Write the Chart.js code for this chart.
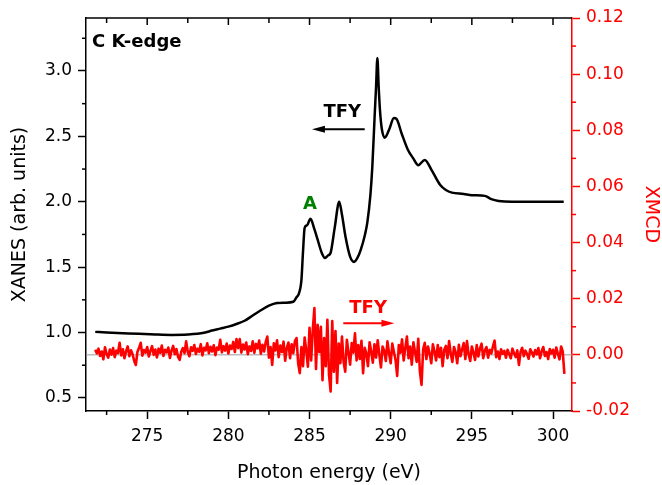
<!DOCTYPE html>
<html>
<head>
<meta charset="utf-8">
<script src="https://cdn.jsdelivr.net/npm/chart.js@4.4.1/dist/chart.umd.min.js"></script>
<style>
  html, body { margin: 0; padding: 0; background: #fff; }
  #wrap { width: 662px; height: 485px; }
</style>
</head>
<body>
<div id="wrap"><canvas id="c"></canvas></div>
<script>
// XANES (TFY), left axis
const xanesEnergy = [271.8, 272.5, 273.5, 274.5, 275.5, 276.5, 277.5, 278.5, 279.0, 279.5,
  280.0, 280.5, 281.0, 281.5, 282.0, 282.5, 283.0, 283.5, 284.0, 284.2, 284.35, 284.5, 284.6,
  284.7, 284.85, 285.06, 285.3, 285.5, 285.75, 285.95, 286.15, 286.3, 286.55, 286.83, 287.0,
  287.22, 287.5, 287.74, 287.95, 288.15, 288.4, 288.56, 288.75, 288.87, 289.01, 289.1, 289.18,
  289.26, 289.34, 289.45, 289.63, 289.9, 290.2, 290.35, 290.68, 291.05, 291.4, 291.7, 292.1,
  292.53, 293.04, 293.4, 293.77, 294.5, 295.0, 295.8, 296.2, 296.65, 297.47, 298.5, 299.5, 300.66]
const xanes = [1.005, 1.0, 0.995, 0.99, 0.985, 0.982, 0.985, 0.998, 1.015, 1.03,
  1.045, 1.065, 1.09, 1.13, 1.17, 1.205, 1.225, 1.228, 1.235, 1.27, 1.30, 1.40, 1.62,
  1.80, 1.82, 1.87, 1.79, 1.71, 1.61, 1.57, 1.59, 1.61, 1.80, 2.00, 1.90,
  1.73, 1.58, 1.54, 1.57, 1.63, 1.74, 1.84, 2.05, 2.27, 2.65, 2.88, 3.10,
  2.88, 2.70, 2.56, 2.49, 2.55, 2.64, 2.635, 2.52, 2.40, 2.33, 2.28, 2.32,
  2.24, 2.13, 2.09, 2.07, 2.06, 2.05, 2.045, 2.02, 2.006, 2.0, 2.0, 2.0, 2.0]

// XMCD (TFY), right axis, 0.1 eV steps
const xmcdEnergy = [271.8, 271.9,
  272.0, 272.1, 272.2, 272.3, 272.4, 272.5, 272.6, 272.7, 272.8, 272.9,
  273.0, 273.1, 273.2, 273.3, 273.4, 273.5, 273.6, 273.7, 273.8, 273.9,
  274.0, 274.1, 274.2, 274.3, 274.4, 274.5, 274.6, 274.7, 274.8, 274.9,
  275.0, 275.1, 275.2, 275.3, 275.4, 275.5, 275.6, 275.7, 275.8, 275.9,
  276.0, 276.1, 276.2, 276.3, 276.4, 276.5, 276.6, 276.7, 276.8, 276.9,
  277.0, 277.1, 277.2, 277.3, 277.4, 277.5, 277.6, 277.7, 277.8, 277.9,
  278.0, 278.1, 278.2, 278.3, 278.4, 278.5, 278.6, 278.7, 278.8, 278.9,
  279.0, 279.1, 279.2, 279.3, 279.4, 279.5, 279.6, 279.7, 279.8, 279.9,
  280.0, 280.1, 280.2, 280.3, 280.4, 280.5, 280.6, 280.7, 280.8, 280.9,
  281.0, 281.1, 281.2, 281.3, 281.4, 281.5, 281.6, 281.7, 281.8, 281.9,
  282.0, 282.1, 282.2, 282.3, 282.4, 282.5, 282.6, 282.7, 282.8, 282.9,
  283.0, 283.1, 283.2, 283.3, 283.4, 283.5, 283.6, 283.7, 283.8, 283.9,
  284.0, 284.1, 284.2, 284.3, 284.4, 284.5, 284.6, 284.7, 284.8, 284.9,
  285.0, 285.1, 285.2, 285.3, 285.4, 285.5, 285.6, 285.7, 285.8, 285.9,
  286.0, 286.1, 286.2, 286.3, 286.4, 286.5, 286.6, 286.7, 286.8, 286.9,
  287.0, 287.1, 287.2, 287.3, 287.4, 287.5, 287.6, 287.7, 287.8, 287.9,
  288.0, 288.1, 288.2, 288.3, 288.4, 288.5, 288.6, 288.7, 288.8, 288.9,
  289.0, 289.1, 289.2, 289.3, 289.4, 289.5, 289.6, 289.7, 289.8, 289.9,
  290.0, 290.1, 290.2, 290.3, 290.4, 290.5, 290.6, 290.7, 290.8, 290.9,
  291.0, 291.1, 291.2, 291.3, 291.4, 291.5, 291.6, 291.7, 291.8, 291.9,
  292.0, 292.1, 292.2, 292.3, 292.4, 292.5, 292.6, 292.7, 292.8, 292.9,
  293.0, 293.1, 293.2, 293.3, 293.4, 293.5, 293.6, 293.7, 293.8, 293.9,
  294.0, 294.1, 294.2, 294.3, 294.4, 294.5, 294.6, 294.7, 294.8, 294.9,
  295.0, 295.1, 295.2, 295.3, 295.4, 295.5, 295.6, 295.7, 295.8, 295.9,
  296.0, 296.1, 296.2, 296.3, 296.4, 296.5, 296.6, 296.7, 296.8, 296.9,
  297.0, 297.1, 297.2, 297.3, 297.4, 297.5, 297.6, 297.7, 297.8, 297.9,
  298.0, 298.1, 298.2, 298.3, 298.4, 298.5, 298.6, 298.7, 298.8, 298.9,
  299.0, 299.1, 299.2, 299.3, 299.4, 299.5, 299.6, 299.7, 299.8, 299.9,
  300.0, 300.1, 300.2, 300.3, 300.4, 300.5, 300.6, 300.7]
const xmcd = [0.0018, 0.0005,
  0.0022, -0.0004, 0.0012, -0.0016, 0.0027, 0.0003, -0.0010, 0.0019, 0.0001, 0.0024,
  -0.0008, 0.0015, 0.0006, 0.0043, -0.0002, 0.0020, -0.0012, 0.0013, 0.0030, -0.0005,
  0.0016, 0.0002, -0.0022, -0.0036, 0.0011, 0.0025, 0.0043, -0.0003, 0.0017, 0.0008,
  0.0028, -0.0006, 0.0014, 0.0031, 0.0000, 0.0019, -0.0009, 0.0022, 0.0007, 0.0033,
  -0.0004, 0.0018, 0.0009, 0.0026, -0.0011, 0.0015, 0.0032, 0.0002, 0.0021, -0.0007,
  -0.0018, 0.0012, 0.0024, 0.0006, 0.0048, 0.0010, -0.0005, 0.0027, 0.0014, 0.0035,
  0.0003, 0.0022, 0.0011, 0.0038, -0.0002, 0.0025, 0.0016, 0.0041, 0.0006, 0.0029,
  0.0012, 0.0034, -0.0001, 0.0026, 0.0018, 0.0054, 0.0009, 0.0031, 0.0015, 0.0040,
  0.0005, 0.0033, 0.0021, 0.0046, 0.0010, 0.0056, 0.0024, 0.0056, 0.0008, 0.0037,
  0.0019, 0.0044, 0.0002, 0.0030, 0.0014, 0.0048, 0.0007, 0.0039, 0.0023, 0.0051,
  0.0004, 0.0036, 0.0012, 0.0045, 0.0065, -0.0010, 0.0028, -0.0036, 0.0041, 0.0016,
  0.0052, -0.0008, 0.0033, 0.0010, 0.0047, -0.0021, 0.0025, 0.0044, -0.0012, 0.0038,
  0.0006, 0.0049, 0.0060, -0.0030, -0.0065, 0.0028, -0.0040, 0.0062, 0.0015, -0.0042,
  0.0096, -0.0020, 0.0088, 0.0167, -0.0050, 0.0107, 0.0010, 0.0100, -0.0090, 0.0060,
  -0.0040, 0.0125, -0.0070, -0.0130, 0.0120, -0.0060, 0.0085, -0.0100, 0.0040, -0.0030,
  0.0065, -0.0025, -0.0060, 0.0054, 0.0010, -0.0035, 0.0042, 0.0008, 0.0077, -0.0020,
  0.0035, -0.0015, 0.0050, -0.0065, 0.0025, 0.0005, -0.0040, 0.0045, 0.0012, -0.0028,
  0.0038, -0.0010, 0.0052, 0.0002, -0.0045, 0.0030, 0.0015, -0.0022, 0.0048, 0.0006,
  -0.0030, 0.0040, 0.0010, -0.0018, -0.0075, 0.0035, 0.0008, 0.0055, -0.0020, 0.0025,
  0.0065, -0.0012, 0.0030, -0.0035, 0.0045, 0.0010, -0.0025, 0.0057, -0.0060, -0.0107,
  0.0020, 0.0043, -0.0015, 0.0030, 0.0005, -0.0030, 0.0038, 0.0012, -0.0020, 0.0035,
  -0.0008, 0.0025, -0.0040, 0.0018, 0.0032, -0.0012, 0.0049, 0.0004, -0.0025, 0.0028,
  0.0010, -0.0030, 0.0036, -0.0005, 0.0020, 0.0042, -0.0015, 0.0049, 0.0002, -0.0022,
  0.0030, 0.0008, -0.0018, 0.0035, -0.0006, 0.0022, 0.0040, -0.0012, 0.0015, 0.0028,
  -0.0010, 0.0018, 0.0005, 0.0030, 0.0051, -0.0008, 0.0012, -0.0015, 0.0020, 0.0004,
  0.0014, -0.0010, 0.0018, 0.0002, -0.0012, 0.0022, 0.0006, -0.0008, 0.0016, -0.0036,
  0.0010, 0.0025, -0.0005, 0.0015, 0.0003, -0.0014, 0.0020, 0.0008, -0.0006, 0.0017,
  0.0002, 0.0024, -0.0012, 0.0012, 0.0028, -0.0004, 0.0010, -0.0015, 0.0021, 0.0005,
  0.0018, -0.0010, 0.0026, 0.0004, -0.0016, 0.0030, 0.0012, -0.0068]

// axis ranges and minor ticks
const energyRange = [271.23, 301.17]
const xanesRange = [0.4, 3.405]
const xmcdRange = [-0.02, 0.12]
const energyMinor = [272.5, 277.5, 282.5, 287.5, 292.5, 297.5]
const energyTop = [272.5, 275, 277.5, 280, 282.5, 285, 287.5, 290, 292.5, 295, 297.5, 300]
const xanesMinor = [0.75, 1.25, 1.75, 2.25, 2.75, 3.25]
const xmcdMinor = [-0.01, 0.01, 0.03, 0.05, 0.07, 0.09, 0.11]

// annotations, in data units
const notes = [
  { text: 'C K-edge', x: 271.6, y: 3.22, axis: 'y', color: '#000', align: 'left' },
  { text: 'TFY', x: 287.02, y: 2.68, axis: 'y', color: '#000', align: 'center' },
  { text: 'A', x: 285.02, y: 1.98, axis: 'y', color: '#008000', align: 'center' },
  { text: 'TFY', x: 288.61, y: 0.0164, axis: 'y1', color: '#ff0000', align: 'center' },
]
const arrows = [
  { from: 288.4, to: 285.15, y: 2.554, axis: 'y', color: '#000' },
  { from: 287.08, to: 290.23, y: 0.0113, axis: 'y1', color: '#ff0000' },
]

const RED = '#ff0000'
Chart.defaults.font.family = '"DejaVu Sans", sans-serif'
Chart.defaults.font.size = 17
Chart.defaults.color = '#000'

const decor = {
  id: 'decor',
  afterDraw(chart) {
    const { ctx, chartArea: a, scales } = chart
    const { x, y, y1 } = scales
    const seg = (x0, y0, x2, y2) => { ctx.beginPath(); ctx.moveTo(x0, y0); ctx.lineTo(x2, y2); ctx.stroke() }
    ctx.save()
    ctx.lineWidth = 1.5
    ctx.strokeStyle = '#000'
    seg(a.left, a.top, a.right, a.top)
    energyTop.forEach(v => { const p = x.getPixelForValue(v); seg(p, a.top, p, a.top + (v % 5 === 0 ? 7 : 5)) })
    energyMinor.forEach(v => { const p = x.getPixelForValue(v); seg(p, a.bottom, p, a.bottom + 4) })
    xanesMinor.forEach(v => { const p = y.getPixelForValue(v); seg(a.left - 4, p, a.left, p) })
    ctx.strokeStyle = RED
    xmcdMinor.forEach(v => { const p = y1.getPixelForValue(v); seg(a.right, p, a.right + 4, p) })

    arrows.forEach(ar => {
      const py = scales[ar.axis].getPixelForValue(ar.y)
      const p0 = x.getPixelForValue(ar.from), p1 = x.getPixelForValue(ar.to)
      const dir = Math.sign(p1 - p0)
      ctx.strokeStyle = ar.color; ctx.fillStyle = ar.color; ctx.lineWidth = 2
      seg(p0, py, p1 - dir * 10, py)
      ctx.beginPath()
      ctx.moveTo(p1, py); ctx.lineTo(p1 - dir * 13, py - 3.5); ctx.lineTo(p1 - dir * 13, py + 3.5)
      ctx.closePath(); ctx.fill()
    })

    ctx.font = 'bold 18px "DejaVu Sans", sans-serif'
    ctx.textBaseline = 'middle'
    notes.forEach(n => {
      ctx.fillStyle = n.color
      ctx.textAlign = n.align
      ctx.fillText(n.text, x.getPixelForValue(n.x), scales[n.axis].getPixelForValue(n.y))
    })
    ctx.restore()
  }
}

new Chart(document.getElementById('c'), {
  type: 'line',
  data: {
    datasets: [
      {
        label: 'XANES',
        data: xanesEnergy.map((e, i) => ({ x: e, y: xanes[i] })),
        yAxisID: 'y',
        borderColor: '#000',
        borderWidth: 2.5,
        pointRadius: 0,
        cubicInterpolationMode: 'monotone',
      },
      {
        label: 'XMCD',
        data: xmcdEnergy.map((e, i) => ({ x: e, y: xmcd[i] })),
        yAxisID: 'y1',
        borderColor: RED,
        borderWidth: 2.6,
        borderJoinStyle: 'round',
        pointRadius: 0,
        tension: 0,
      },
      {
        label: 'zero',
        data: [{ x: energyRange[0], y: 0 }, { x: energyRange[1], y: 0 }],
        yAxisID: 'y1',
        borderColor: '#9a9a9a',
        borderWidth: 1,
        pointRadius: 0,
      },
    ],
  },
  options: {
    responsive: true,
    maintainAspectRatio: false,
    animation: false,
    layout: { padding: { top: 18, left: 0, right: 0, bottom: 0 } },
    plugins: { legend: { display: false }, tooltip: { enabled: false } },
    scales: {
      x: {
        type: 'linear',
        min: energyRange[0],
        max: energyRange[1],
        ticks: { stepSize: 5, includeBounds: false, padding: 7, maxRotation: 0, autoSkip: false, callback: v => String(v) },
        grid: { drawOnChartArea: false, tickLength: 8, tickWidth: 1.5, tickColor: '#000' },
        border: { color: '#000', width: 1.5 },
        title: { display: true, text: 'Photon energy (eV)', font: { size: 19 }, padding: { top: 0, bottom: 1 } },
        afterFit: s => { s.height = 74 },
      },
      y: {
        position: 'left',
        min: xanesRange[0],
        max: xanesRange[1],
        ticks: { stepSize: 0.5, includeBounds: false, padding: 6, callback: v => v.toFixed(1) },
        grid: { drawOnChartArea: false, tickLength: 8, tickWidth: 1.5, tickColor: '#000' },
        border: { color: '#000', width: 1.5 },
        title: { display: true, text: 'XANES (arb. units)', font: { size: 19 }, padding: { top: 9, bottom: 0 } },
        afterFit: s => { s.width = 86 },
      },
      y1: {
        position: 'right',
        min: xmcdRange[0],
        max: xmcdRange[1],
        ticks: { stepSize: 0.02, includeBounds: false, padding: 6, color: RED,
          callback: v => (Math.abs(v) < 1e-9 ? 0 : v).toFixed(2) },
        grid: { drawOnChartArea: false, tickLength: 8, tickWidth: 1.5, tickColor: RED },
        border: { color: RED, width: 1.5 },
        title: { display: true, text: 'XMCD', color: RED, font: { size: 19 }, padding: { top: 0, bottom: 0 } },
        afterFit: s => { s.width = 90 },
      },
    },
  },
  plugins: [decor],
})
</script>
</body>
</html>
